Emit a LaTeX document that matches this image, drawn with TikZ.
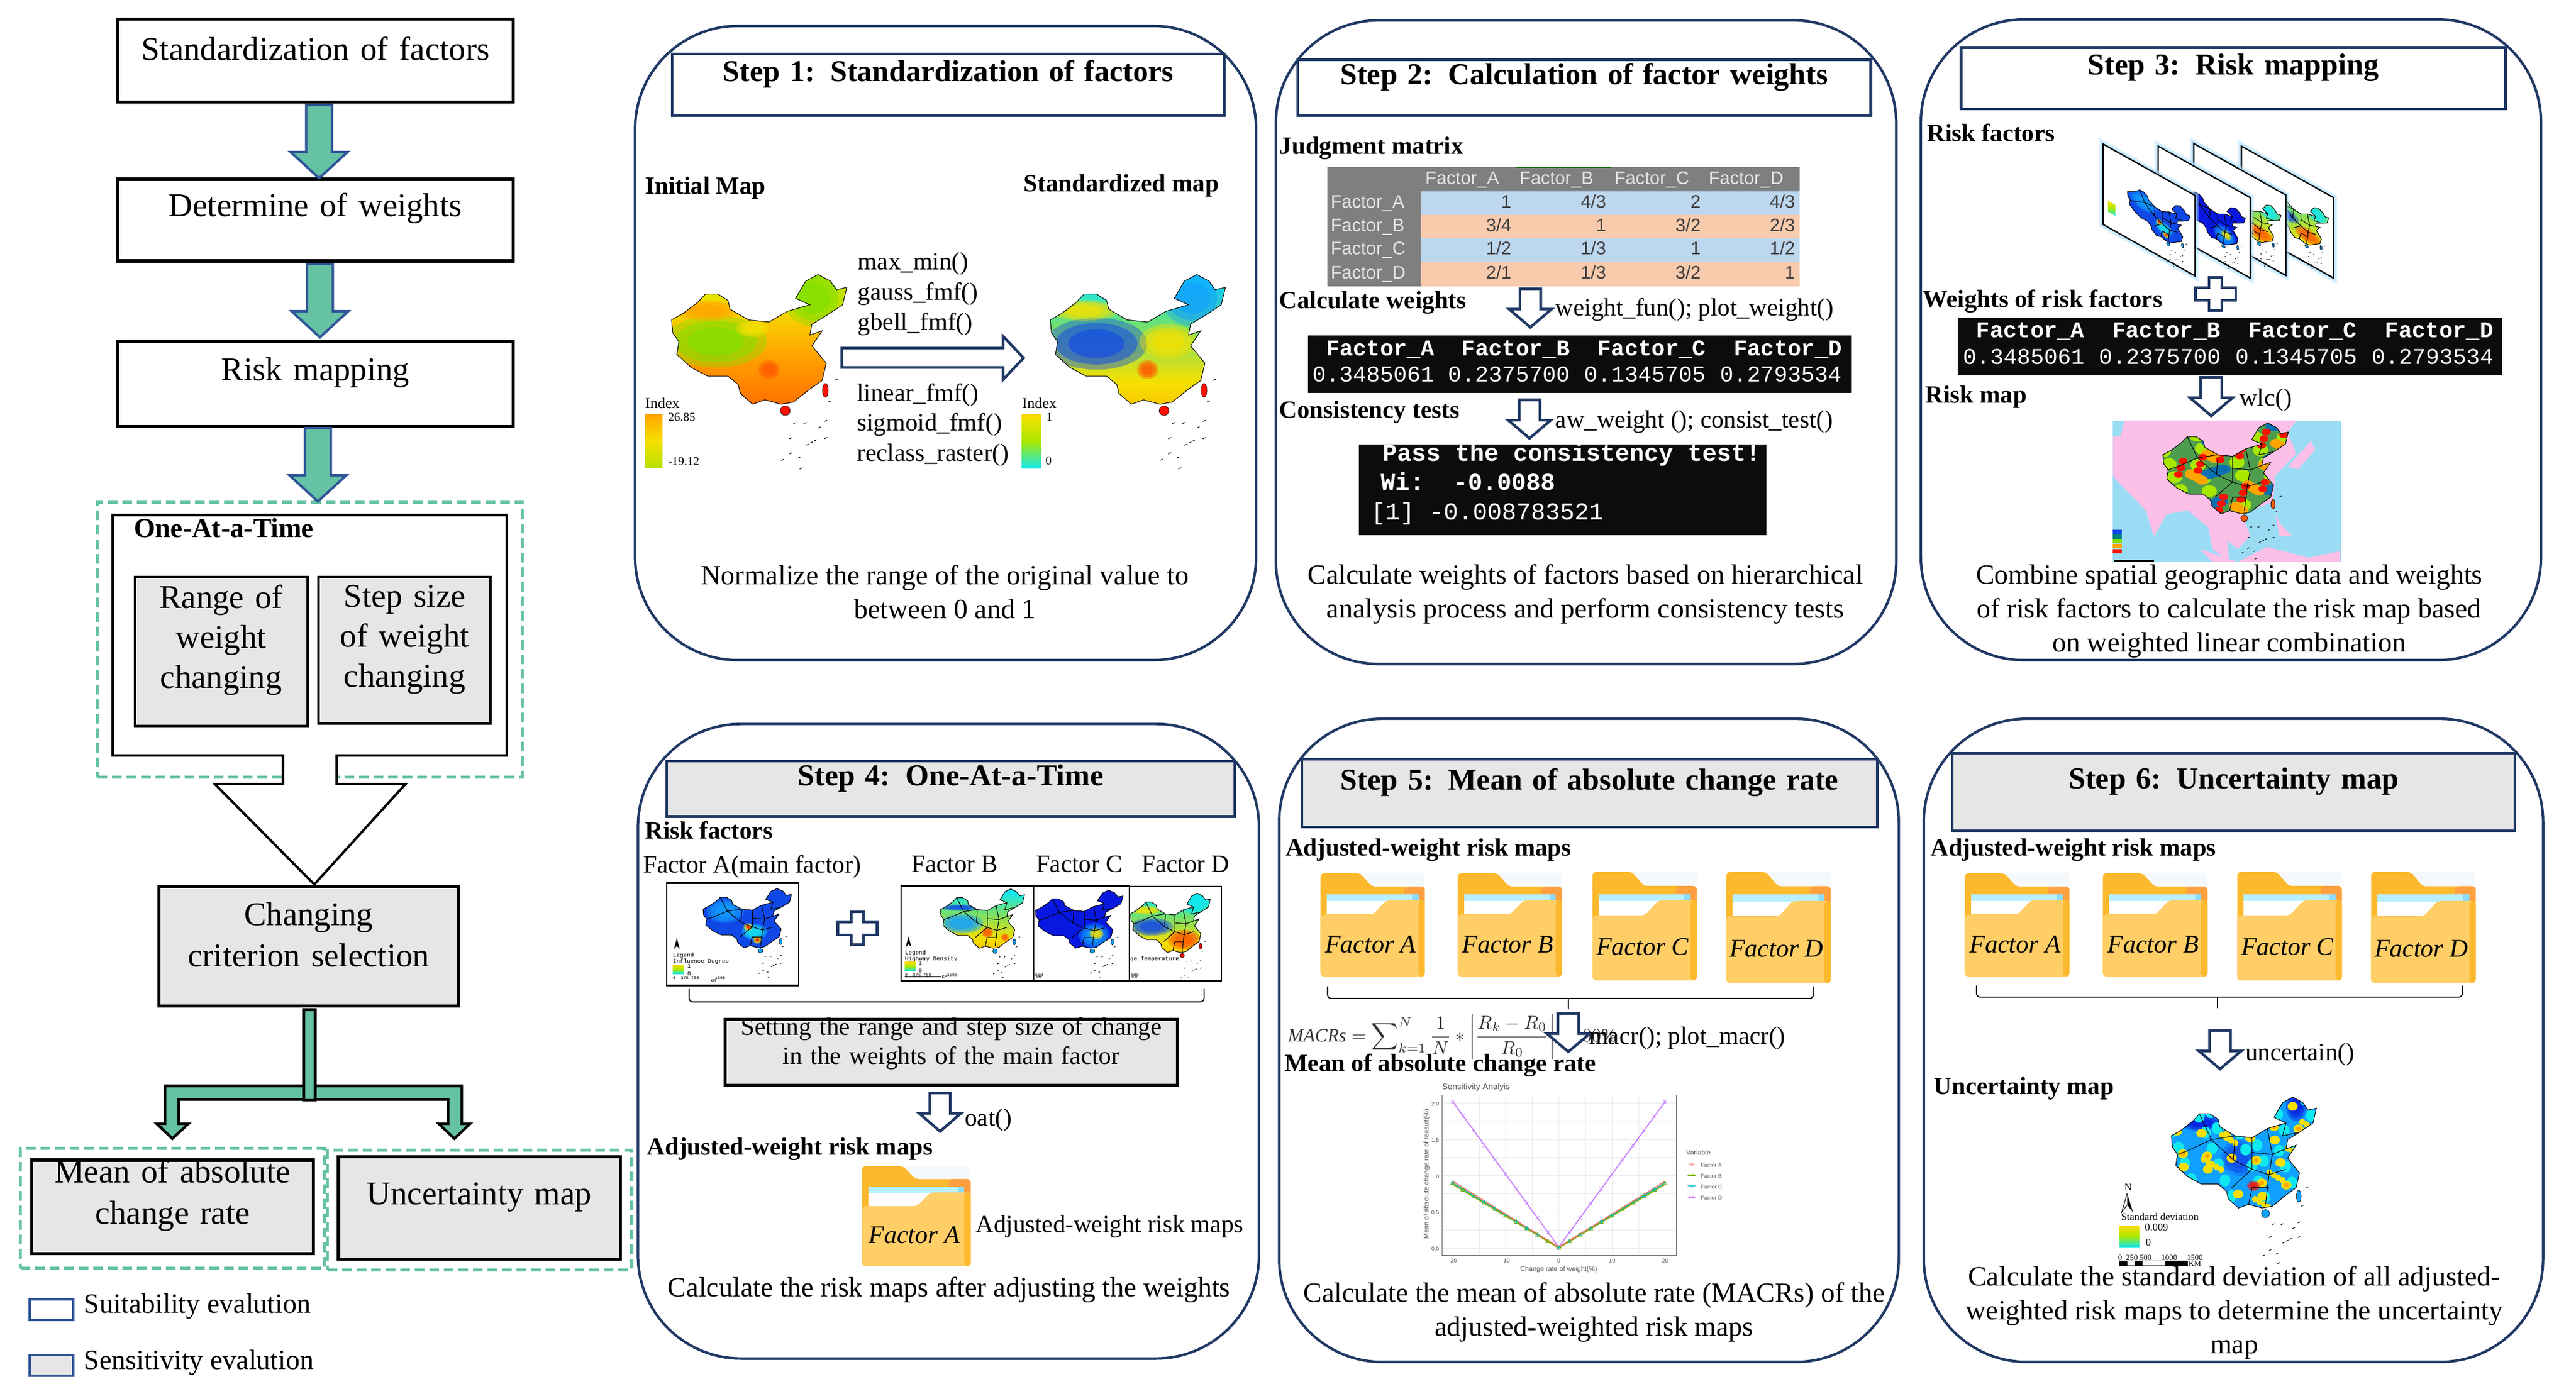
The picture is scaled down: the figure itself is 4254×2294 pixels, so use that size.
\documentclass[tikz,border=0pt]{standalone}
\usepackage{fontspec}
\setmainfont{Liberation Serif}
\setsansfont{Liberation Sans}
\setmonofont{Liberation Mono}
\usetikzlibrary{fit,calc}
\definecolor{cnavy}{HTML}{1F3864}
\definecolor{cblue}{HTML}{2F5597}
\definecolor{cteal}{HTML}{66C2A5}
\definecolor{cgray}{HTML}{E6E6E6}
\definecolor{cterm}{HTML}{0C0C0C}
\definecolor{cfa}{HTML}{FDB92E}
\definecolor{cfb}{HTML}{FFCE66}
\definecolor{cfc}{HTML}{FFA040}
\definecolor{cfd}{HTML}{B8F0FF}
\definecolor{cfe}{HTML}{8CDCFF}
\definecolor{cff}{HTML}{F6F9FB}
\definecolor{ctabb}{HTML}{BDD7EE}
\definecolor{ctabo}{HTML}{F8CBAD}
\definecolor{ctabg}{HTML}{7F7F7F}
\definecolor{cpink}{HTML}{FBBFE8}
\definecolor{csky}{HTML}{9BDCF5}
\definecolor{ha}{HTML}{FF1000}
\definecolor{hb}{HTML}{FF5A00}
\definecolor{hc}{HTML}{FFA500}
\definecolor{hd}{HTML}{F5E000}
\definecolor{he}{HTML}{A8E800}
\definecolor{hf}{HTML}{7FE000}
\definecolor{hg}{HTML}{70E070}
\definecolor{hh}{HTML}{10E8F0}
\definecolor{hi}{HTML}{10A0FF}
\definecolor{hj}{HTML}{1048E8}
\definecolor{hk}{HTML}{0818E0}
\definecolor{cpur}{HTML}{C77CFF}
\definecolor{cred}{HTML}{F8766D}
\definecolor{cgre}{HTML}{7CAE00}
\definecolor{ccya}{HTML}{00BFC4}
\pgfdeclareverticalshading{heatA}{100bp}{color(0bp)=(ha);color(20bp)=(hb);color(45bp)=(hc);color(62bp)=(hd);color(80bp)=(he);color(100bp)=(hf)}
\pgfdeclareverticalshading{heatB}{100bp}{color(0bp)=(ha);color(15bp)=(hc);color(35bp)=(hd);color(55bp)=(hg);color(70bp)=(hh);color(100bp)=(hi)}
\pgfdeclareverticalshading{rainb}{100bp}{color(0bp)=(hj);color(25bp)=(hh);color(50bp)=(he);color(72bp)=(hd);color(85bp)=(hc);color(100bp)=(ha)}
\pgfdeclareverticalshading{legA}{100bp}{color(0bp)=(hf);color(50bp)=(hd);color(75bp)=(hc);color(100bp)=(ha)}
\newcounter{nn}
\newcommand\tx[4][]{\stepcounter{nn}\node[#1] (t\arabic{nn}) at (#2,#3) {#4};}
\newcommand\bx[7][]{\node[fit={(#3,#4)(#5,#6)},inner sep=0pt,align=center,#1] (#2) {#7};}
\newcommand\Chinapath{(2,110) -- (30,95) -- (65,70) -- (85,50) -- (115,50) -- (140,65) -- (145,85) -- (190,110) -- (240,115) -- (285,90) -- (340,75) -- (305,60) -- (330,20) -- (360,5) -- (390,20) -- (405,40) -- (430,35) -- (420,75) -- (380,100) -- (345,120) -- (340,145) -- (370,135) -- (345,170) -- (380,210) -- (370,250) -- (340,270) -- (300,300) -- (270,305) -- (230,295) -- (200,305) -- (170,280) -- (165,260) -- (140,240) -- (90,240) -- (50,220) -- (15,190) -- (20,160) -- (5,140) -- cycle}
\newcommand\mapat[6]{\begin{scope}[shift={(#1,#2)},xscale=#3,yscale=#4]
\begin{scope}\clip \Chinapath; #5 \end{scope}
\draw[black,line width=.5pt] \Chinapath;
\fill[#6,draw=black,line width=.3pt] (280,320) ellipse [x radius=12,y radius=11];
\fill[#6,draw=black,line width=.3pt] (378,273) ellipse [x radius=7,y radius=16];
\foreach \xa/\ya in {300/350,325/350,375/345,290/385,340/395,375/385,290/420,270/435,330/400,350/390,310/430,315/455,360/360,385/300,400/250}{\draw[black,line width=.5pt] (\xa,\ya) -- ++(7,-3);}
\end{scope}}
\newcommand\blob[5]{\fill[#5,opacity=.4] (#1,#2) ellipse [x radius=#3,y radius=#4];
\fill[#5,opacity=.5] (#1,#2) ellipse [x radius={#3*.8},y radius={#4*.8}];
\fill[#5,opacity=.6] (#1,#2) ellipse [x radius={#3*.55},y radius={#4*.55}];}
\newcommand\provlines{\draw[black,line width=.5pt] (85,50) -- (120,120) -- (190,110) (120,120) -- (50,150) -- (20,160) (190,110) -- (185,175) -- (240,200) -- (180,250) (240,115) -- (240,200) -- (290,215) -- (340,200) (285,90) -- (300,160) -- (340,145) (290,215) -- (280,295) (230,295) -- (240,250) -- (290,250) (340,75) -- (330,110) -- (380,100) (300,160) -- (290,215) (185,175) -- (120,120) (240,155) -- (300,160);}
\newcommand\spots[6]{\foreach \i in {1,...,#2}{\pgfmathsetmacro\xa{mod(\i*#3,430)}\pgfmathsetmacro\ya{mod(\i*#4,310)}\fill[#1] (\xa,\ya) ellipse [x radius=#5,y radius=#6];}}
\newcommand\fillA{\shade[shading=heatA] (-10,-10) rectangle (440,320);
\blob{110}{160}{125}{60}{hf}\blob{90}{88}{80}{24}{hc}\blob{350}{60}{75}{65}{hf}\blob{240}{225}{26}{22}{hb}\blob{200}{130}{40}{20}{hd}}
\newcommand\fillB{\shade[shading=heatB] (-10,-10) rectangle (440,320);
\blob{115}{165}{125}{60}{hj}\blob{85}{88}{85}{24}{hd}\blob{350}{60}{75}{65}{hi}\blob{240}{225}{26}{22}{hb}\blob{290}{160}{70}{40}{hd}}
\newcommand\fillFA{\fill[hj] (-10,-10) rectangle (440,320);\blob{110}{120}{90}{60}{hi}\blob{250}{225}{60}{40}{hh}\blob{220}{200}{22}{20}{hd}\blob{220}{200}{12}{11}{ha}\blob{265}{265}{22}{20}{hd}\blob{265}{265}{11}{10}{ha}\provlines}
\newcommand\fillFB{\shade[shading=heatB] (-10,-10) rectangle (440,320);\blob{100}{100}{95}{16}{hj}\blob{110}{180}{110}{50}{hi}\blob{240}{225}{30}{26}{hb}\blob{330}{250}{20}{20}{hb}\provlines}
\newcommand\fillFC{\fill[hk] (-10,-10) rectangle (440,320);\blob{290}{240}{75}{65}{hi}\blob{300}{230}{35}{30}{hd}\provlines}
\newcommand\fillFD{\shade[shading=heatB] (-10,-10) rectangle (440,320);\blob{115}{175}{115}{45}{hj}\blob{85}{92}{85}{22}{hd}\blob{350}{60}{75}{55}{hh}\blob{290}{240}{90}{50}{hb}\provlines}
\newcommand\fillR{\fill[hg!70!black] (-10,-10) rectangle (440,320);\spots{he}{26}{137}{89}{26}{20}\spots{hi!70!black}{16}{211}{53}{30}{16}\spots{hc}{30}{97}{173}{20}{15}\spots{ha}{34}{71}{131}{15}{11}\provlines}
\newcommand\fillU{\fill[hi] (-10,-10) rectangle (440,320);\blob{90}{75}{60}{22}{hk}\blob{200}{170}{50}{50}{hj}\blob{370}{30}{30}{40}{hk}\blob{140}{220}{60}{20}{hi}\spots{hh}{40}{137}{89}{16}{16}\spots{hd}{38}{97}{173}{9}{9}\spots{hd}{30}{233}{79}{15}{12}\spots{hc}{16}{233}{79}{7}{6}\blob{245}{245}{20}{14}{ha}\provlines}
\newcommand\hollowdown[2]{\draw[hollow] ({#1-25},#2) -- ({#1+25},#2) -- ({#1+25},{#2+47}) -- ({#1+51},{#2+47}) -- (#1,{#2+89}) -- ({#1-51},{#2+47}) -- ({#1-25},{#2+47}) -- cycle;}
\newcommand\plusmark[2]{\draw[hollow] ({#1-15},{#2-38}) -- ({#1+15},{#2-38}) -- ({#1+15},{#2-15}) -- ({#1+48},{#2-15}) -- ({#1+48},{#2+15}) -- ({#1+15},{#2+15}) -- ({#1+15},{#2+38}) -- ({#1-15},{#2+38}) -- ({#1-15},{#2+15}) -- ({#1-48},{#2+15}) -- ({#1-48},{#2-15}) -- ({#1-15},{#2-15}) -- cycle;}
\newcommand\garrow[2]{\draw[greenarrow] ({#1-32},#2) -- ({#1+32},#2) -- ({#1+32},{#2+94}) -- ({#1+70},{#2+94}) -- (#1,{#2+146}) -- ({#1-70},{#2+94}) -- ({#1-32},{#2+94}) -- cycle;}
\newcommand\folder[6]{\begin{scope}[shift={(#1,#2)},xscale=#3,yscale=#4]
\fill[cff] (95,0) rectangle (250,31);
\fill[cfa,rounded corners=3pt] (0,240) -- (0,0) -- (95,0) -- (123,31) -- (250,31) -- (250,240) -- cycle;
\fill[cfc,rounded corners=3pt] (200,31) -- (250,31) -- (250,70) -- (200,70) -- cycle;
\fill[white] (15,49) rectangle (235,96);
\fill[cfd] (15,49) rectangle (220,64);
\fill[cfe] (220,49) rectangle (235,64);
\fill[cfb,rounded corners=3pt] (0,240) -- (0,96) -- (126,96) -- (158,63) -- (250,63) -- (250,240) -- cycle;
\fill[cfa,rounded corners=3pt] (235,63) -- (250,63) -- (250,240) -- (235,240) -- cycle;
\node[font=\itshape\fontsize{21}{24}\selectfont,inner sep=0pt] (#5) at (120,166) {#6};
\end{scope}}
\newcommand\termweights[6]{\foreach \xa/\xb/\lbl/\val in {#1/#2/A/0.3485061,#1+325/#2+325/B/0.2375700,#1+651/#2+651/C/0.1345705,#1+977/#2+977/D/0.2793534}{
\tx[term,font=\ttfamily\bfseries\fontsize{18.6}{20}\selectfont]{\xa}{#3}{Factor\_\lbl}
\tx[term]{\xb}{#4}{\val}}}
\newcommand\sheetm[4]{\begin{scope}[shift={(#1,#2)},yslant=-.559]
\draw[hi!35!white,opacity=.45,line width=6pt] (0,0) rectangle (220,186);
\draw[hi!35!white,opacity=.6,line width=3pt] (0,0) rectangle (220,186);
\fill[white] (0,0) rectangle (220,186);
\mapat{58}{42}{.35}{.33}{#3}{hi}
#4
\draw[black,line width=1.1pt] (0,0) rectangle (220,186);
\end{scope}}
\tikzset{
 panelbox/.style={draw=cnavy,line width=2.1pt,rounded corners=85pt,fill=white},
 headbox/.style={draw=cnavy,line width=2.1pt,font=\bfseries\fontsize{25}{30}\selectfont},
 headgray/.style={headbox,fill=cgray},
 capt/.style={font=\fontsize{23}{28}\selectfont,align=center,inner sep=0pt},
 subh/.style={font=\bfseries\fontsize{20.5}{24}\selectfont,anchor=mid west,inner sep=0pt},
 fnc/.style={font=\fontsize{20.5}{24}\selectfont,anchor=mid west,inner sep=0pt},
 term/.style={font=\ttfamily\fontsize{18.6}{20}\selectfont,anchor=mid west,inner sep=0pt,text=white},
 term2/.style={font=\ttfamily\bfseries\fontsize{20}{22}\selectfont,anchor=mid west,inner sep=0pt,text=white},
 tabh/.style={font=\sffamily\fontsize{15}{17}\selectfont,text=gray!20,anchor=mid west,inner sep=0pt},
 tabv/.style={font=\sffamily\fontsize{15}{17}\selectfont,text=black!75,anchor=mid east,inner sep=0pt},
 hollow/.style={draw=cnavy,line width=2.2pt,fill=white,line join=miter},
 greenarrow/.style={draw=cblue,line width=2pt,fill=cteal,line join=miter},
 flowbox/.style={draw=black,line width=2.6pt,fill=white,font=\fontsize{27.4}{33}\selectfont},
 graybox/.style={draw=black,line width=2.6pt,fill=cgray,font=\fontsize{27.4}{34}\selectfont},
 dashbox/.style={draw=cteal,line width=2.6pt,dash pattern=on 8pt off 4pt},
 small/.style={font=\fontsize{#1}{#1}\selectfont,anchor=mid west,inner sep=0pt},
 tick/.style={font=\sffamily\fontsize{4.6}{5}\selectfont,text=black!65,inner sep=0pt},
 tiny/.style={font=\ttfamily\fontsize{4.8}{5}\selectfont,anchor=mid west,inner sep=0pt},
 bracel/.style={draw=black,line width=.9pt,rounded corners=3pt},
}
\begin{document}
\begin{tikzpicture}[x=.5pt,y=-.5pt]
\useasboundingbox (0,0) rectangle (4254,2294);
\fill[white] (0,0) rectangle (4254,2294);
% ---------- left flow, upper
\begin{scope}[x=.3348pt,y=-.4145pt]
\bx[flowbox]{f1}{290}{38}{1266}{203}{Standardization of factors}
\bx[flowbox]{f2}{290}{357}{1266}{520}{Determine of weights}
\bx[flowbox]{f3}{290}{680}{1266}{850}{Risk mapping}
\garrow{787}{209}
\garrow{789}{526}
\node[dashbox,fit={(240,1000)(1288,1548)},inner sep=0pt] (dz1) {};
\garrow{784}{853}
\draw[draw=black,line width=2pt,fill=white,line join=miter] (278,1026) -- (1250,1026) -- (1250,1505) -- (830,1505) -- (830,1562) -- (1000,1562) -- (775,1762) -- (530,1562) -- (698,1562) -- (698,1505) -- (278,1505) -- cycle;
\tx[subh,font=\bfseries\fontsize{22.7}{26}\selectfont]{330}{1065}{One-At-a-Time}
\bx[graybox,line width=2pt,font=\fontsize{27.4}{33}\selectfont]{r1}{333}{1150}{758}{1446}{Range of\\weight\\changing}
\bx[graybox,line width=2pt,font=\fontsize{27.4}{33}\selectfont]{r2}{786}{1150}{1210}{1442}{Step size\\of weight\\changing}
\end{scope}
% ---------- left flow, lower
\begin{scope}[yshift=-650pt,x=.338pt,y=-.3225pt]
\bx[graybox]{c1}{388}{255}{1120}{560}{Changing\\criterion selection}
\draw[draw=black,line width=2.2pt,fill=cteal,line join=miter] (403,765) -- (1128,765) -- (1128,862) -- (1148,862) -- (1110,900) -- (1072,862) -- (1095,862) -- (1095,800) -- (437,800) -- (437,862) -- (460,862) -- (421,900) -- (383,862) -- (403,862) -- cycle;
\draw[draw=black,line width=2.2pt,fill=cteal] (742,570) rectangle (770,802);
\node[dashbox,fit={(50,925)(792,1232)},inner sep=0pt] (dz2) {};
\node[dashbox,fit={(800,930)(1543,1236)},inner sep=0pt] (dz3) {};
\bx[graybox]{c2}{78}{955}{765}{1195}{Mean of absolute\\change rate}
\bx[graybox]{c3}{827}{947}{1515}{1208}{Uncertainty map}
\bx[draw=cblue,line width=2pt,fill=white]{l1}{72}{1312}{179}{1365}{}
\bx[draw=cblue,line width=2pt,fill=cgray]{l2}{72}{1455}{179}{1507}{}
\tx[small=23]{205}{1340}{Suitability evalution}
\tx[small=23]{205}{1483}{Sensitivity evalution}
\end{scope}
% ---------- Step 1
\begin{scope}[xshift=520pt,x=.338pt,y=-.357pt]
\bx[panelbox]{p1}{13}{60}{1530}{1527}{}
\bx[headbox]{h1}{103}{125}{1453}{268}{Step 1: Standardization of factors}
\tx[subh]{37}{443}{Initial Map}
\tx[subh]{962}{437}{Standardized map}
\mapat{100}{630}{1}{1}{\fillA}{ha}
\mapat{1025}{630}{1}{1}{\fillB}{ha}
\tx[fnc]{557}{618}{max\_min()}
\tx[fnc]{557}{688}{gauss\_fmf()}
\tx[fnc]{557}{757}{gbell\_fmf()}
\tx[fnc]{555}{921}{linear\_fmf()}
\tx[fnc]{555}{990}{sigmoid\_fmf()}
\tx[fnc]{555}{1060}{reclass\_raster()}
\draw[hollow] (518,805) -- (912,805) -- (912,778) -- (962,828) -- (912,878) -- (912,850) -- (518,850) -- cycle;
\shade[shading=legA] (37,958) rectangle (80,1082);
\shade[shading=rainb] (958,958) rectangle (1004,1084);
\tx[small=12.5]{37}{938}{Index}
\tx[small=12.5]{958}{938}{Index}
\tx[small=10]{93}{967}{26.85}
\tx[small=10]{93}{1070}{-19.12}
\tx[small=10]{1017}{967}{1}
\tx[small=10]{1015}{1069}{0}
\tx[capt]{770}{1369}{Normalize the range of the original value to\\between 0 and 1}
\end{scope}
% ---------- Step 2
\begin{scope}[xshift=1050pt,x=.3445pt,y=-.357pt]
\bx[panelbox]{p2}{10}{47}{1497}{1536}{}
\bx[headbox]{h2}{62}{138}{1436}{268}{Step 2: Calculation of factor weights}
\tx[subh]{18}{350}{Judgment matrix}
\fill[ctabg] (134,387) rectangle (1265,662);
\fill[ctabb] (357,442) rectangle (1265,497);
\fill[ctabo] (357,497) rectangle (1265,551);
\fill[ctabb] (357,551) rectangle (1265,606);
\fill[ctabo] (357,606) rectangle (1265,662);
\draw[green!45!black,line width=.8pt] (585,387) -- (812,387);
\tx[tabh]{368}{420}{Factor\_A}\tx[tabh]{594}{420}{Factor\_B}\tx[tabh]{821}{420}{Factor\_C}\tx[tabh]{1047}{420}{Factor\_D}
\tx[tabh]{141}{475}{Factor\_A}\tx[tabh]{141}{529}{Factor\_B}\tx[tabh]{141}{583}{Factor\_C}\tx[tabh]{141}{638}{Factor\_D}
\tx[tabv]{575}{475}{1}\tx[tabv]{802}{475}{4/3}\tx[tabv]{1029}{475}{2}\tx[tabv]{1255}{475}{4/3}
\tx[tabv]{575}{529}{3/4}\tx[tabv]{802}{529}{1}\tx[tabv]{1029}{529}{3/2}\tx[tabv]{1255}{529}{2/3}
\tx[tabv]{575}{583}{1/2}\tx[tabv]{802}{583}{1/3}\tx[tabv]{1029}{583}{1}\tx[tabv]{1255}{583}{1/2}
\tx[tabv]{575}{638}{2/1}\tx[tabv]{802}{638}{1/3}\tx[tabv]{1029}{638}{3/2}\tx[tabv]{1255}{638}{1}
\tx[subh]{18}{707}{Calculate weights}
\hollowdown{620}{668}
\tx[fnc]{680}{724}{weight\_fun(); plot\_weight()}
\fill[cterm] (87,776) rectangle (1390,909);
\termweights{130}{97}{816}{877}{}{}
\tx[subh]{18}{960}{Consistency tests}
\hollowdown{618}{925}
\tx[fnc]{680}{983}{aw\_weight (); consist\_test()}
\fill[cterm] (209,1028) rectangle (1186,1238);
\tx[term2]{265}{1060}{Pass the consistency test!}
\tx[term2]{262}{1128}{Wi:\ \ -0.0088}
\tx[term2,font=\ttfamily\fontsize{20}{22}\selectfont]{238}{1196}{[1] -0.008783521}
\tx[capt]{752}{1374}{Calculate weights of factors based on hierarchical\\analysis process and perform consistency tests}
\end{scope}
% ---------- Step 3
\begin{scope}[xshift=1585pt,x=.3455pt,y=-.357pt]
\bx[panelbox]{p3}{3}{45}{1485}{1527}{}
\bx[headbox]{h3}{99}{110}{1400}{252}{Step 3: Risk mapping}
\tx[subh]{18}{320}{Risk factors}
\sheetm{769}{338}{\fillFD}{}
\sheetm{655}{332}{\fillFD}{}
\sheetm{570}{338}{\fillFC}{}
\sheetm{438}{333}{\fillFA}{\shade[shading=rainb] (12,125) rectangle (30,150);}
\plusmark{707}{680}
\tx[subh]{8}{705}{Weights of risk factors}
\fill[cterm] (91,735) rectangle (1392,868);
\termweights{135}{103}{775}{836}{}{}
\tx[subh]{13}{926}{Risk map}
\hollowdown{697}{873}
\tx[fnc]{764}{932}{wlc()}
\fill[csky] (462,973) rectangle (1007,1300);
\fill[cpink] (490,973) -- (900,973) -- (880,1000) -- (900,1050) -- (850,1100) -- (845,1160) -- (770,1190) -- (790,1240) -- (760,1270) -- (735,1250) -- (740,1300) -- (700,1270) -- (690,1220) -- (640,1180) -- (590,1190) -- (560,1240) -- (540,1180) -- (470,1110) -- (462,1100) -- (462,1010) -- (480,1010) -- cycle;
\fill[cpink] (935,1020) -- (945,1040) -- (905,1085) -- (880,1080) -- cycle;
\fill[cpink] (850,1190) -- (865,1215) -- (890,1240) -- (860,1240) -- cycle;
\fill[cpink] (670,1270) -- (700,1300) -- (1005,1300) -- (1005,1275) -- (930,1290) -- (830,1265) -- (760,1300) -- cycle;
\mapat{580}{975}{.70}{.70}{\fillR}{hb}
\foreach \ya/\cc in {1225/hj,1236/teal,1247/hf,1258/hc,1270/ha}{\fill[\cc] (462,\ya) rectangle (483,\ya+10);}
\fill[black] (465,1296) rectangle (560,1300);
\tx[capt]{740}{1414}{Combine spatial geographic data and weights\\of risk factors to calculate the risk map based\\on weighted linear combination}
\end{scope}
% ---------- Step 4
\begin{scope}[xshift=520pt,yshift=-590pt,x=.338pt,y=-.35525pt]
\bx[panelbox]{p4}{20}{22}{1537}{1497}{}
\bx[headgray]{h4}{90}{108}{1478}{237}{Step 4: One-At-a-Time}
\tx[subh]{37}{283}{Risk factors}
\tx[fnc]{33}{362}{Factor A(main factor)}
\tx[fnc]{688}{360}{Factor B}
\tx[fnc]{992}{360}{Factor C}
\tx[fnc]{1250}{360}{Factor D}
\bx[draw=black,line width=1.2pt,fill=white]{m1}{90}{392}{413}{630}{}
\bx[draw=black,line width=1.2pt,fill=white]{m2}{663}{399}{987}{620}{}
\bx[draw=black,line width=1.2pt,fill=white]{m3}{987}{399}{1220}{620}{}
\bx[draw=black,line width=1.2pt,fill=white]{m4}{1220}{400}{1445}{620}{}
\mapat{178}{402}{.505}{.46}{\fillFA}{hi}
\mapat{758}{403}{.48}{.46}{\fillFB}{hi}
\mapat{990}{406}{.5}{.45}{\fillFC}{hi}
\mapat{1222}{413}{.456}{.46}{\fillFD}{ha}
\fill[black] (115,520) -- (122,545) -- (115,538) -- (108,545) -- cycle;
\tx[tiny]{105}{557}{Legend}
\tx[tiny]{105}{571}{Influence Degree}
\shade[shading=rainb] (105,582) rectangle (132,603);
\tx[tiny]{140}{583}{1}\tx[tiny]{140}{601}{0}
\tx[tiny,font=\ttfamily\fontsize{3.6}{4}\selectfont]{105}{609}{0 \ 375 750 \ \ \ \ \ 1500}
\draw[black,line width=.8pt] (105,617) -- (195,617);
\tx[tiny,font=\ttfamily\fontsize{3.6}{4}\selectfont]{197}{616}{KM}
\fill[black] (681,516) -- (688,541) -- (681,534) -- (674,541) -- cycle;
\tx[tiny]{672}{552}{Legend}
\tx[tiny]{672}{565}{Highway Density}
\shade[shading=rainb] (672,575) rectangle (698,596);
\tx[tiny]{705}{576}{1}\tx[tiny]{705}{594}{0}
\tx[tiny,font=\ttfamily\fontsize{3.6}{4}\selectfont]{672}{602}{0 \ 375 750 \ \ \ \ \ 1500}
\draw[black,line width=.8pt] (672,609) -- (762,609);
\tx[tiny,font=\ttfamily\fontsize{3.6}{4}\selectfont]{762}{607}{KM}
\tx[tiny,font=\ttfamily\fontsize{3.6}{4}\selectfont]{990}{602}{500}
\tx[tiny,font=\ttfamily\fontsize{3.6}{4}\selectfont]{992}{608}{KM}
\tx[tiny,font=\ttfamily\fontsize{3.6}{4}\selectfont]{1224}{602}{500}
\tx[tiny,font=\ttfamily\fontsize{3.6}{4}\selectfont]{1226}{608}{KM}
\tx[tiny]{1222}{566}{ge Temperature}
\plusmark{556}{497}
\draw[bracel] (145,638) -- (145,668) -- (1403,668) -- (1403,638);
\draw[bracel] (770,668) -- (770,697);
\bx[draw=black,line width=2.4pt,fill=cgray,font=\fontsize{20.6}{24}\selectfont]{s4}{233}{709}{1338}{862}{Setting the range and step size of change\\in the weights of the main factor}
\hollowdown{758}{880}
\tx[fnc]{818}{950}{oat()}
\tx[subh]{42}{1018}{Adjusted-weight risk maps}
\folder{567}{1050}{1.064}{.967}{fa4}{Factor A}
\tx[fnc]{845}{1198}{Adjusted-weight risk maps}
\tx[capt]{780}{1338}{Calculate the risk maps after adjusting the weights}
\end{scope}
% ---------- Step 5
\begin{scope}[xshift=1050pt,yshift=-590pt,x=.3445pt,y=-.35525pt]
\bx[panelbox]{p5}{18}{10}{1503}{1505}{}
\bx[headgray]{h5}{72}{104}{1452}{262}{Step 5: Mean of absolute change rate}
\tx[subh]{33}{322}{Adjusted-weight risk maps}
\folder{117}{369}{1}{1}{fa5}{Factor A}
\folder{446}{369}{1}{1}{fb5}{Factor B}
\folder{769}{366}{1}{1.05}{fc5}{Factor C}
\folder{1090}{366}{1}{1.075}{fd5}{Factor D}
\draw[bracel] (134,632) -- (134,660) -- (1298,660) -- (1298,632);
\draw[bracel] (711,660) -- (711,686);
\node[scale=1.55,anchor=mid west,inner sep=0pt,text=black!80] (fm) at (38,750) {$\displaystyle\mathit{MACRs}=\sum\nolimits_{k=1}^{N}\frac{1}{N}*\left|\frac{R_k-R_0}{R_0}\right|*100\%$};
\hollowdown{711}{695}
\tx[fnc]{760}{760}{macr(); plot\_macr()}
\tx[subh]{30}{823}{Mean of absolute change rate}
\tx[tick,font=\sffamily\fontsize{7}{8}\selectfont,anchor=mid west]{408}{866}{Sensitivity Analyis}
\foreach \xa in {434,498,561,625,688,752,816,880,943}{\draw[black!8,line width=.5pt] (\xa,884) -- (\xa,1257);}
\foreach \ya in {903,945,988,1030,1072,1114,1156,1198,1240}{\draw[black!8,line width=.5pt] (409,\ya) -- (970,\ya);}
\node[draw=black!60,line width=.6pt,fit={(409,884)(970,1257)},inner sep=0pt] (plotf) {};
\draw[ccya,line width=.9pt] (434,1089) -- (688,1239) -- (943,1089);
\draw[cgre,line width=.9pt] (434,1092) -- (688,1240) -- (943,1092);
\draw[cred,line width=.9pt] (434,1085) -- (688,1238) -- (943,1085);
\draw[cpur,line width=.9pt] (434,900) -- (688,1238) -- (943,900);
\foreach \i in {-20,-18,...,20}{\pgfmathsetmacro\xa{688+\i*12.72}\pgfmathsetmacro\ya{1238-abs(\i)*16.9}\pgfmathsetmacro\yb{1239-abs(\i)*7.5}
\draw[cpur,line width=.4pt] (\xa-4,\ya-4) -- (\xa+4,\ya+4) (\xa-4,\ya+4) -- (\xa+4,\ya-4);
\draw[cgre,line width=.5pt] (\xa-5,\yb+4) -- (\xa+5,\yb+4) -- (\xa,\yb-4) -- cycle;
\draw[ccya,line width=.4pt] (\xa-5,\yb) -- (\xa+5,\yb) (\xa,\yb-5) -- (\xa,\yb+5);}
\foreach \xa/\lb in {434/-20,561/-10,688/0,816/10,943/20}{\stepcounter{nn}\node[tick] (t\arabic{nn}) at (\xa,1270) {\lb};}
\foreach \ya/\lb in {903/2.0,988/1.5,1072/1.0,1156/0.5,1240/0.0}{\stepcounter{nn}\node[tick,anchor=mid east] (t\arabic{nn}) at (402,\ya) {\lb};}
\tx[tick,font=\sffamily\fontsize{5.6}{6}\selectfont]{688}{1290}{Change rate of weight(\%)}
\tx[tick,font=\sffamily\fontsize{5.6}{6}\selectfont,rotate=90]{372}{1068}{Mean of absolute change rate of reasult(\%)}
\tx[tick,font=\sffamily\fontsize{5.6}{6}\selectfont,anchor=mid west]{993}{1017}{Variable}
\foreach \ya/\cc/\lb in {1046/cred/A,1071/cgre/B,1096/ccya/C,1122/cpur/D}{\draw[\cc,line width=.7pt] (997,\ya) -- (1016,\ya);\draw[\cc,line width=.4pt] (1002,\ya-3) -- (1011,\ya+3) (1002,\ya+3) -- (1011,\ya-3);\stepcounter{nn}\node[tick,anchor=mid west] (t\arabic{nn}) at (1028,\ya) {Factor \lb};}
\tx[capt]{773}{1389}{Calculate the mean of absolute rate (MACRs) of the\\adjusted-weighted risk maps}
\end{scope}
% ---------- Step 6
\begin{scope}[xshift=1585pt,yshift=-590pt,x=.3455pt,y=-.35525pt]
\bx[panelbox]{p6}{10}{10}{1490}{1505}{}
\bx[headgray]{h6}{78}{90}{1423}{270}{Step 6: Uncertainty map}
\tx[subh]{26}{322}{Adjusted-weight risk maps}
\folder{108}{369}{1}{1}{fa6}{Factor A}
\folder{438}{369}{1}{1}{fb6}{Factor B}
\folder{759}{366}{1}{1.05}{fc6}{Factor C}
\folder{1079}{366}{1}{1.075}{fd6}{Factor D}
\draw[bracel] (136,630) -- (136,657) -- (1297,657) -- (1297,630);
\draw[bracel] (712,657) -- (712,683);
\hollowdown{718}{735}
\tx[fnc]{778}{798}{uncertain()}
\tx[subh]{34}{877}{Uncertainty map}
\mapat{600}{885}{.81}{.86}{\fillU}{hi}
\tx[small=8.5]{489}{1100}{N}
\fill[black] (496,1113) -- (510,1157) -- (496,1140) -- cycle;
\draw[black,line width=.5pt] (496,1113) -- (483,1157) -- (496,1140);
\tx[small=8.5]{481}{1170}{Standard deviation}
\shade[shading=rainb] (478,1188) rectangle (525,1238);
\tx[small=8.5]{538}{1194}{0.009}
\tx[small=8.5]{540}{1228}{0}
\tx[small=6.5]{474}{1262}{0 \ 250 500 \ \ \ \ 1000 \ \ \ \ 1500}
\draw[black,line width=.6pt] (478,1270) rectangle (640,1281);
\fill[black] (478,1270) rectangle (497,1281) (515,1270) rectangle (533,1281) (587,1270) rectangle (640,1281);
\tx[small=6.5]{642}{1276}{KM}
\tx[capt]{752}{1391}{Calculate the standard deviation of all adjusted-\\weighted risk maps to determine the uncertainty\\map}
\end{scope}
\end{tikzpicture}
\end{document}
